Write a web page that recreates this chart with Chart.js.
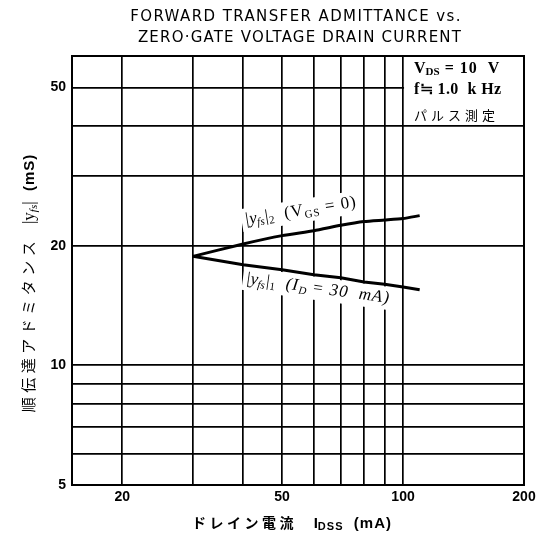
<!DOCTYPE html>
<html>
<head>
<meta charset="utf-8">
<script src="https://cdn.jsdelivr.net/npm/chart.js@4"></script>
<style>
  html, body { margin: 0; padding: 0; background: #fff; }
  #wrap { width: 542px; height: 540px; }
</style>
</head>
<body>
<div id="wrap"><canvas id="yfsChart" width="542" height="540"></canvas></div>
<script>
var currentMA = [30, 40, 50, 60, 70, 80, 90, 100, 110];
var yfs2 = [18.8, 20.2, 21.2, 21.8, 22.5, 23.0, 23.2, 23.4, 23.8];
var yfs1 = [18.8, 17.9, 17.4, 16.9, 16.6, 16.2, 16.0, 15.75, 15.5];

var xGrid = [20, 30, 40, 50, 60, 70, 80, 90, 100, 200];
var xLabels = [20, 50, 100, 200];
var yGrid = [5, 6, 7, 8, 9, 10, 20, 30, 40, 50];
var yLabels = [5, 10, 20, 50];

var titleLines = ['FORWARD TRANSFER ADMITTANCE vs.', 'ZERO\u00b7GATE VOLTAGE DRAIN CURRENT'];

function toPoints(xs, ys) {
    return xs.map(function(x, i) { return { x: x, y: ys[i] }; });
}

function setSeg(ctx, s) {
    ctx.font = s.font;
    ctx.letterSpacing = (s.ls || 0) + 'px';
}

function richWidth(ctx, segs) {
    var w = 0;
    ctx.save();
    segs.forEach(function(s) { setSeg(ctx, s); w += ctx.measureText(s.t).width; });
    ctx.restore();
    return w;
}

// draw text pieces (for subscripts), anchor = left baseline
function drawRich(ctx, segs, x, y, angle, bg) {
    var w = richWidth(ctx, segs);
    ctx.save();
    ctx.translate(x, y);
    ctx.rotate(angle);
    if (bg) {
        ctx.fillStyle = '#fff';
        ctx.fillRect(-3, -16, w + 6, 23);
    }
    ctx.fillStyle = '#000';
    ctx.textBaseline = 'alphabetic';
    ctx.textAlign = 'left';
    var cx = 0;
    segs.forEach(function(s) {
        setSeg(ctx, s);
        ctx.fillText(s.t, cx, s.dy || 0);
        cx += ctx.measureText(s.t).width;
    });
    ctx.restore();
    return w;
}

var it = 'italic 17px "Liberation Serif"';
var itS = 'italic 11px "Liberation Serif"';
var rm = '17px "Liberation Serif"';
var rmS = '11px "Liberation Serif"';

var labelsPlugin = {
    id: 'labels',
    beforeDatasetsDraw: function(chart) {
        var ctx = chart.ctx, a = chart.chartArea;
        var xs = chart.scales.x, ys = chart.scales.y;
        // condition box in the top right corner
        var bx = xs.getPixelForValue(100), by = ys.getPixelForValue(40);
        ctx.save();
        ctx.fillStyle = '#fff';
        ctx.fillRect(bx + 1, a.top, a.right - bx - 1, by - a.top - 1);
        ctx.restore();
        var bs = 'bold 16px "Liberation Serif"', bsS = 'bold 11px "Liberation Serif"';
        drawRich(ctx, [{t: 'V', font: bs}, {t: 'DS', font: bsS, dy: 2}, {t: ' = 10  V', font: bs, ls: 1}], bx + 11, a.top + 17, 0, false);
        drawRich(ctx, [{t: 'f\u2252 1.0  k Hz', font: bs, ls: 0.4}], bx + 11, a.top + 38, 0, false);
        drawRich(ctx, [{t: 'パルス測定', font: '13px "Noto Sans CJK JP"', ls: 4}], bx + 11, a.top + 64, 0, false);

        // curve labels
        drawRich(ctx, [
            {t: '|y', font: it}, {t: 'fs', font: itS, dy: 3}, {t: '|', font: it}, {t: '2', font: rmS, dy: 3},
            {t: '  (V', font: rm, ls: 1}, {t: 'GS', font: rmS, dy: 3, ls: 1}, {t: ' = 0)', font: rm, ls: 1}
        ], xs.getPixelForValue(40.5), ys.getPixelForValue(22.6), -0.16, true);
        drawRich(ctx, [
            {t: '|y', font: it}, {t: 'fs', font: itS, dy: 3}, {t: '|', font: it}, {t: '1', font: rmS, dy: 3},
            {t: '  (I', font: it, ls: 1}, {t: 'D', font: itS, dy: 3}, {t: ' = 30  mA)', font: it, ls: 1}
        ], xs.getPixelForValue(40.5), ys.getPixelForValue(16.1), 0.138, true);
    },
    afterDraw: function(chart) {
        var ctx = chart.ctx, a = chart.chartArea;
        ctx.save();
        ctx.strokeStyle = '#000';
        ctx.lineWidth = 2;
        ctx.strokeRect(a.left, a.top, a.right - a.left, a.bottom - a.top);
        ctx.restore();

        // chart title
        var tf = '15px "DejaVu Sans"';
        var s1 = [{t: titleLines[0], font: tf, ls: 1.4}];
        var s2 = [{t: titleLines[1], font: tf, ls: 1.2}];
        drawRich(ctx, s1, 296 - richWidth(ctx, s1) / 2, 21, 0, false);
        drawRich(ctx, s2, 300 - richWidth(ctx, s2) / 2, 42, 0, false);

        // axis titles
        var jb = 'bold 14px "Noto Sans CJK JP"';
        var ls = 'bold 15px "Liberation Sans"', lsS = 'bold 11px "Liberation Sans"';
        var segsX = [{t: 'ドレイン電流', font: jb, ls: 3.5}, {t: '    I', font: ls}, {t: 'DSS', font: lsS, dy: 2, ls: 1}, {t: '  (mA)', font: ls, ls: 1}];
        drawRich(ctx, segsX, 292 - richWidth(ctx, segsX) / 2, 528, 0, false);

        var jy = '15px "Noto Sans CJK JP"';
        var segsY = [{t: '順伝達アドミタンス', font: jy, ls: 4.5}, {t: '   |y', font: '17px "Liberation Serif"'}, {t: 'fs', font: itS, dy: 3},
            {t: '|', font: '17px "Liberation Serif"'}, {t: '  (mS)', font: 'bold 15px "Liberation Sans"', ls: 1}];
        drawRich(ctx, segsY, 34, 283 + richWidth(ctx, segsY) / 2, -Math.PI / 2, false);
    }
};

new Chart(document.getElementById('yfsChart'), {
    type: 'line',
    data: {
        datasets: [
            { label: '|yfs|2', data: toPoints(currentMA, yfs2), borderColor: '#000', borderWidth: 3, pointRadius: 0, tension: 0.2 },
            { label: '|yfs|1', data: toPoints(currentMA, yfs1), borderColor: '#000', borderWidth: 3, pointRadius: 0 }
        ]
    },
    options: {
        responsive: false,
        animation: false,
        layout: { padding: { left: 0, right: 18, top: 56, bottom: 0 } },
        plugins: {
            legend: { display: false },
            tooltip: { enabled: false },
            title: { display: false }
        },
        scales: {
            x: {
                type: 'logarithmic',
                min: 15,
                max: 200,
                afterBuildTicks: function(s) { s.ticks = xGrid.map(function(v) { return { value: v }; }); },
                afterFit: function(s) { s.height = 55; },
                ticks: {
                    autoSkip: false,
                    maxRotation: 0,
                    padding: 4,
                    color: '#000',
                    font: { family: 'Liberation Sans', size: 14, weight: 'bold' },
                    callback: function(v) { return xLabels.indexOf(v) >= 0 ? String(v) : ''; }
                },
                grid: { color: '#000', lineWidth: 1.7, drawTicks: false },
                border: { display: true, color: '#000', width: 2 }
            },
            y: {
                type: 'logarithmic',
                min: 5,
                max: 60,
                afterBuildTicks: function(s) { s.ticks = yGrid.map(function(v) { return { value: v }; }); },
                afterFit: function(s) { s.width = 72; },
                ticks: {
                    autoSkip: false,
                    padding: 6,
                    color: '#000',
                    font: { family: 'Liberation Sans', size: 14, weight: 'bold' },
                    callback: function(v) { return yLabels.indexOf(v) >= 0 ? String(v) : ''; }
                },
                grid: { color: '#000', lineWidth: 1.7, drawTicks: false },
                border: { display: true, color: '#000', width: 2 }
            }
        }
    },
    plugins: [labelsPlugin]
});
</script>
</body>
</html>
